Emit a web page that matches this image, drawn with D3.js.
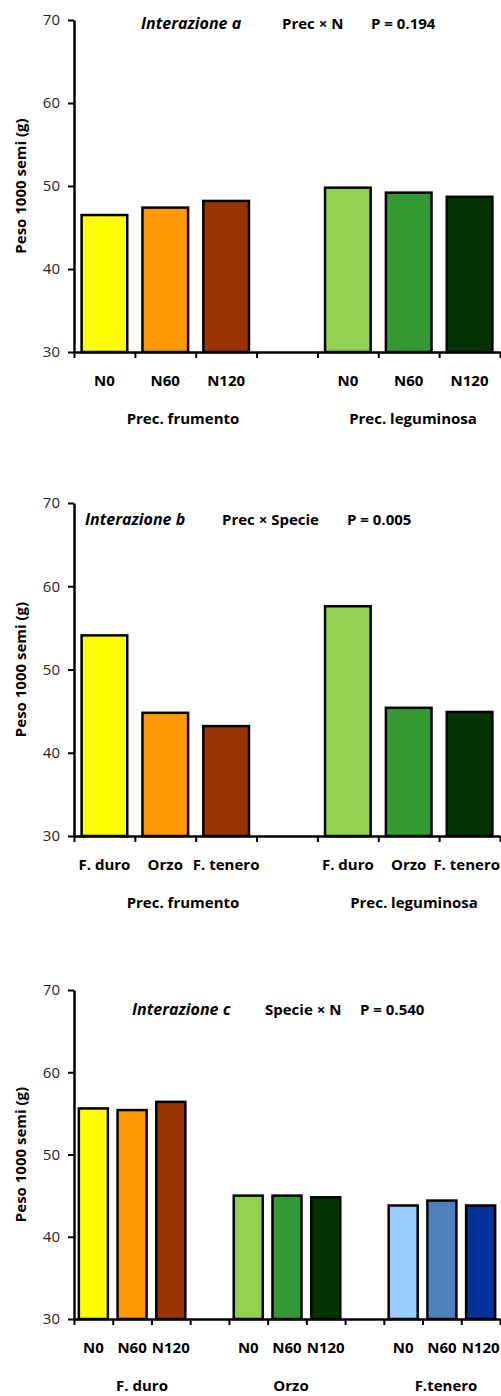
<!DOCTYPE html>
<html>
<head>
<meta charset="utf-8">
<script src="https://cdn.jsdelivr.net/npm/d3@7"></script>
<style>
  body { margin: 0; background: #fff; }
  text { font-family: "Open Sans", sans-serif; }
</style>
</head>
<body>
<div id="chart"></div>
<script>
// dati
const yTicks = [30, 40, 50, 60, 70];

const catsA = ["N0", "N60", "N120", "", "N0", "N60", "N120"];
const valsA = [46.5, 47.4, 48.2, null, 49.8, 49.2, 48.7];
const colsA = ["#FFFF00", "#FF9900", "#993300", null, "#92D050", "#339933", "#003300"];

const catsB = ["F. duro", "Orzo", "F. tenero", "", "F. duro", "Orzo", "F. tenero"];
const valsB = [54.1, 44.8, 43.2, null, 57.6, 45.4, 44.9];
const colsB = colsA;

const catsC = ["N0", "N60", "N120", "", "N0", "N60", "N120", "", "N0", "N60", "N120"];
const valsC = [55.6, 55.4, 56.4, null, 45.0, 45.0, 44.8, null, 43.8, 44.4, 43.8];
const colsC = ["#FFFF00", "#FF9900", "#993300", null, "#92D050", "#339933", "#003300", null, "#99CCFF", "#4F81BD", "#003399"];

const groupsAB = ["Prec. frumento", "Prec. leguminosa"];
const groupsC = ["F. duro", "Orzo", "F.tenero"];

const titlesA = ["Interazione a", "Prec × N", "P = 0.194"];
const titlesB = ["Interazione b", "Prec × Specie", "P = 0.005"];
const titlesC = ["Interazione c", "Specie × N", "P = 0.540"];

const width = 501;
const height = 1396;
const left = 74;
const right = 500;

const svg = d3.select("#chart")
  .append("svg")
  .attr("width", width)
  .attr("height", height);

const panels = [
  { top: 20, bottom: 352, cats: catsA, vals: valsA, cols: colsA, groups: groupsAB,
    groupX: [183, 413], titles: titlesA, titleX: [141, 282, 371], titleDy: 9 },
  { top: 503, bottom: 836, cats: catsB, vals: valsB, cols: colsB, groups: groupsAB,
    groupX: [183, 414], titles: titlesB, titleX: [85, 222, 347], titleDy: 22 },
  { top: 990, bottom: 1319, cats: catsC, vals: valsC, cols: colsC, groups: groupsC,
    groupX: [142, 291, 446], titles: titlesC, titleX: [132, 265, 360], titleDy: 25 }
];

panels.forEach((p) => {
  const g = svg.append("g");

  const y = d3.scaleLinear().domain([30, 70]).range([p.bottom, p.top]);
  const x = d3.scaleBand()
    .domain(d3.range(p.cats.length))
    .range([left, right])
    .paddingInner(0.25)
    .paddingOuter(0.125);
  const xTick = d3.scaleLinear().domain([0, p.cats.length]).range([left, right]);

  const rows = p.cats.map((c, i) => ({ i, c, v: p.vals[i], col: p.cols[i] }))
    .filter((d) => d.v != null);

  g.selectAll("rect")
    .data(rows)
    .enter()
    .append("rect")
    .attr("x", (d) => x(d.i))
    .attr("y", (d) => y(d.v))
    .attr("width", x.bandwidth())
    .attr("height", (d) => y(30) - y(d.v))
    .attr("fill", (d) => d.col)
    .attr("stroke", "#000")
    .attr("stroke-width", 2.5);

  // asse y
  const yAx = g.append("g")
    .attr("transform", `translate(${left},0)`)
    .call(d3.axisLeft(y).tickValues(yTicks).tickSize(6).tickSizeOuter(0).tickPadding(8));
  yAx.select(".domain").attr("stroke-width", 2.5);
  yAx.selectAll(".tick line").attr("stroke-width", 2);
  yAx.selectAll("text")
    .attr("fill", "#262626")
    .style("font-size", "15px");

  // asse x (tacche ai confini delle categorie)
  const xAx = g.append("g")
    .attr("transform", `translate(0,${p.bottom})`)
    .call(d3.axisBottom(xTick).tickValues(d3.range(p.cats.length + 1)).tickSize(6).tickSizeOuter(0).tickFormat(""));
  xAx.select(".domain").attr("stroke-width", 2.5);
  xAx.selectAll(".tick line").attr("stroke-width", 2);

  // etichette categorie
  g.append("g")
    .selectAll("text")
    .data(p.cats.map((c, i) => ({ c, i })).filter((d) => d.c !== ""))
    .enter()
    .append("text")
    .attr("x", (d) => x(d.i) + x.bandwidth() / 2)
    .attr("y", p.bottom + 34)
    .attr("text-anchor", "middle")
    .style("font-size", "15px")
    .style("font-weight", "bold")
    .text((d) => d.c)
    .each(function () {
      // tieni il testo dentro il bordo destro
      const w = this.getComputedTextLength();
      const cx = +this.getAttribute("x");
      if (cx + w / 2 > width - 1) this.setAttribute("x", width - 1 - w / 2);
    });

  // etichette gruppi
  g.append("g")
    .selectAll("text")
    .data(p.groups)
    .enter()
    .append("text")
    .attr("x", (d, i) => p.groupX[i])
    .attr("y", p.bottom + 72)
    .attr("text-anchor", "middle")
    .style("font-size", "15px")
    .style("font-weight", "bold")
    .text((d) => d);

  // titolo
  g.append("g")
    .selectAll("text")
    .data(p.titles)
    .enter()
    .append("text")
    .attr("x", (d, i) => p.titleX[i])
    .attr("y", p.top + p.titleDy)
    .style("font-size", (d, i) => (i === 0 ? "16px" : "15px"))
    .style("font-weight", "bold")
    .style("font-style", (d, i) => (i === 0 ? "italic" : "normal"))
    .text((d) => d);

  // titolo asse y
  g.append("text")
    .attr("transform", "rotate(-90)")
    .attr("x", -(p.top + p.bottom) / 2)
    .attr("y", 26)
    .attr("text-anchor", "middle")
    .style("font-size", "15px")
    .style("font-weight", "bold")
    .text("Peso 1000 semi (g)");
});
</script>
</body>
</html>
